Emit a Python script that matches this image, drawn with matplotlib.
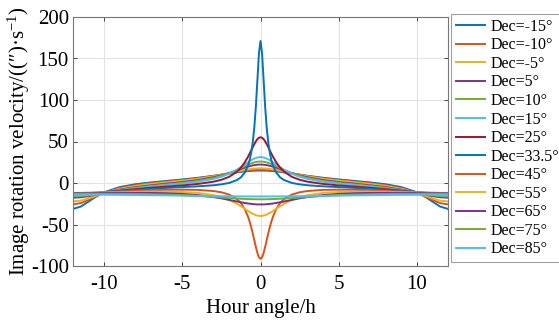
import numpy as np
import matplotlib
matplotlib.use("Agg")
import matplotlib.pyplot as plt

# Hour angle samples (h) for H >= 0; curves are symmetric about H = 0
hour_angle = [0, 0.1, 0.2, 0.3, 0.4, 0.5, 0.6, 0.7, 0.8, 1.0, 1.25, 1.5, 2, 2.5, 3,
              4, 5, 6, 7, 8, 9, 10, 10.5, 11, 11.5, 12]

dec_labels = ["Dec=-15°", "Dec=-10°", "Dec=-5°", "Dec=5°", "Dec=10°", "Dec=15°",
              "Dec=25°", "Dec=33.5°", "Dec=45°", "Dec=55°", "Dec=65°", "Dec=75°", "Dec=85°"]

dec_m15 = [15.0, 15.0, 15.0, 14.9, 14.9, 14.8, 14.6, 14.5, 14.3, 14.0, 13.4, 12.8, 11.5, 10.1, 8.7,
           6.3, 4.3, 2.5, 0.7, -1.5, -4.9, -11.1, -16.1, -22.3, -28.4, -31.2]
dec_m10 = [16.2, 16.2, 16.1, 16.0, 15.9, 15.8, 15.7, 15.5, 15.3, 14.8, 14.1, 13.3, 11.6, 9.9, 8.4,
           5.7, 3.5, 1.7, -0.2, -2.6, -6.0, -11.7, -15.8, -20.3, -24.2, -25.8]
dec_m5 = [17.7, 17.6, 17.6, 17.5, 17.3, 17.2, 16.9, 16.7, 16.4, 15.8, 14.9, 13.9, 11.8, 9.8, 8.0,
          5.0, 2.8, 0.8, -1.1, -3.5, -6.9, -11.9, -15.2, -18.5, -21.2, -22.2]
dec_5 = [22.2, 22.2, 22.0, 21.8, 21.5, 21.2, 20.7, 20.2, 19.7, 18.5, 16.9, 15.2, 11.9, 9.1, 6.9,
         3.5, 1.1, -0.8, -2.8, -5.0, -8.0, -11.8, -13.9, -15.8, -17.2, -17.7]
dec_10 = [25.8, 25.8, 25.6, 25.2, 24.8, 24.2, 23.6, 22.8, 22.0, 20.3, 18.0, 15.8, 11.7, 8.5, 6.0,
          2.6, 0.2, -1.7, -3.5, -5.7, -8.4, -11.6, -13.3, -14.8, -15.8, -16.2]
dec_15 = [31.2, 31.1, 30.7, 30.1, 29.4, 28.4, 27.4, 26.2, 24.9, 22.3, 19.1, 16.1, 11.1, 7.5, 4.9,
          1.5, -0.7, -2.5, -4.3, -6.3, -8.7, -11.5, -12.8, -14.0, -14.8, -15.0]
dec_25 = [55.1, 54.5, 52.8, 50.1, 46.7, 43.0, 39.1, 35.2, 31.6, 25.1, 18.6, 13.8, 7.5, 3.9, 1.6,
          -1.1, -2.9, -4.3, -5.7, -7.4, -9.2, -11.2, -12.1, -12.8, -13.3, -13.5]
dec_33_5 = [171.1, 156.1, 123.5, 91.1, 66.1, 48.4, 36.0, 27.2, 20.9, 12.7, 6.9, 3.6, 0.1, -1.6, -2.7,
            -4.0, -4.9, -5.9, -7.0, -8.3, -9.7, -11.1, -11.7, -12.2, -12.5, -12.6]
dec_45 = [-91.4, -89.5, -84.3, -76.9, -68.6, -60.4, -52.8, -46.2, -40.5, -31.7, -24.3, -19.5, -14.0, -11.2, -9.7,
          -8.3, -8.0, -8.2, -8.7, -9.5, -10.3, -11.2, -11.5, -11.8, -12.0, -12.0]
dec_55 = [-39.7, -39.6, -39.2, -38.7, -37.9, -37.0, -36.0, -34.9, -33.7, -31.1, -28.0, -25.1, -20.4, -17.1, -14.7,
          -12.0, -10.8, -10.3, -10.3, -10.6, -11.0, -11.5, -11.7, -11.8, -11.9, -11.9]
dec_65 = [-25.8, -25.8, -25.8, -25.7, -25.5, -25.4, -25.2, -24.9, -24.7, -24.1, -23.2, -22.3, -20.4, -18.5, -17.0,
          -14.6, -13.1, -12.3, -12.0, -11.9, -11.9, -12.1, -12.1, -12.2, -12.2, -12.2]
dec_75 = [-19.6, -19.6, -19.6, -19.6, -19.5, -19.5, -19.5, -19.4, -19.3, -19.2, -19.0, -18.7, -18.2, -17.5, -16.9,
          -15.7, -14.7, -14.0, -13.5, -13.2, -13.0, -13.0, -12.9, -12.9, -12.9, -12.9]
dec_85 = [-16.2, -16.2, -16.2, -16.2, -16.2, -16.2, -16.2, -16.2, -16.1, -16.1, -16.1, -16.1, -16.0, -15.9, -15.7,
          -15.5, -15.2, -14.9, -14.7, -14.5, -14.3, -14.2, -14.2, -14.2, -14.2, -14.1]

series = [dec_m15, dec_m10, dec_m5, dec_5, dec_10, dec_15, dec_25, dec_33_5,
          dec_45, dec_55, dec_65, dec_75, dec_85]

colors = ["#0072BD", "#D95319", "#EDB120", "#7E2F8E", "#77AC30", "#4DBEEE", "#A2142F"]

xticks = [-10, -5, 0, 5, 10]
yticks = [-100, -50, 0, 50, 100, 150, 200]

plt.rcParams['font.family'] = ['Liberation Serif', 'DejaVu Serif']
plt.rcParams['mathtext.fontset'] = 'stix'

fig = plt.figure(figsize=(5.59, 3.2), dpi=100)
ax = fig.add_axes([73 / 559, 54 / 320, (448 - 73) / 559, (266 - 17) / 320])

h = np.asarray(hour_angle)
h_full = np.concatenate([-h[:0:-1], h])
for i, (vals, lab) in enumerate(zip(series, dec_labels)):
    v = np.asarray(vals)
    v_full = np.concatenate([v[:0:-1], v])
    ax.plot(h_full, v_full, color=colors[i % len(colors)], lw=1.4, label=lab)

ax.set_xlim(-12, 12)
ax.set_ylim(-100, 200)
ax.set_xticks(xticks)
ax.set_yticks(yticks)
ax.set_xticklabels([str(t) for t in xticks])
ax.set_yticklabels([str(t) for t in yticks])
ax.grid(True, color="#e3e3e3", lw=0.8)
ax.set_axisbelow(True)
ax.tick_params(direction="in", length=3, width=0.7, colors="#444444", labelcolor="black",
               labelsize=15, top=True, right=True)
ax.tick_params(axis="x", pad=6.5)
ax.tick_params(axis="y", pad=3)
for s in ax.spines.values():
    s.set_color("#777777")
    s.set_linewidth(0.8)

ax.set_xlabel("Hour angle/h", fontsize=15, labelpad=3.5)
ax.set_ylabel("Image rotation velocity/((″)·s$^{\\mathregular{-1}}$)", fontsize=15, labelpad=-1)

leg = fig.legend(loc="upper left", bbox_to_anchor=(451 / 559, 1 - 14 / 320),
                 fontsize=11.5, frameon=True, fancybox=False, edgecolor="#888888",
                 handlelength=1.8, handletextpad=0.35, labelspacing=0.16,
                 borderpad=0.3, borderaxespad=0)
leg.get_frame().set_linewidth(0.8)

fig.savefig("out.png", dpi=100)
